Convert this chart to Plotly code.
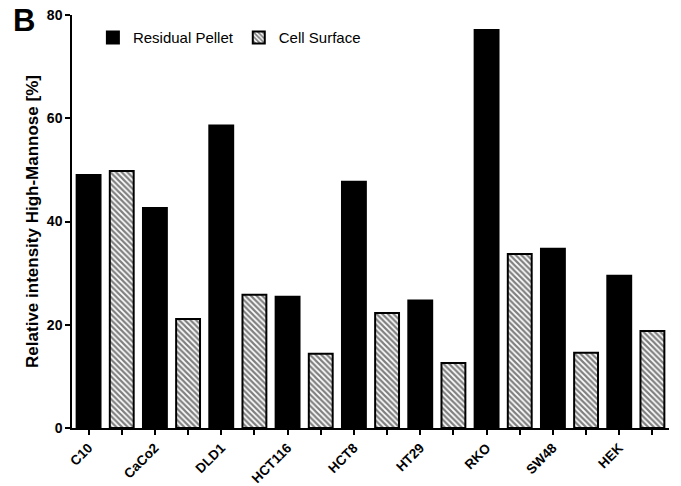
import plotly.graph_objects as go

cells = ["C10", "CaCo2", "DLD1", "HCT116", "HCT8", "HT29", "RKO", "SW48", "HEK"]
residual_pellet = [49.0, 42.6, 58.6, 25.4, 47.7, 24.7, 77.1, 34.7, 29.5]
cell_surface = [49.8, 21.1, 25.8, 14.4, 22.3, 12.6, 33.7, 14.6, 18.8]
y_ticks = [0, 20, 40, 60, 80]

FONT = "Arial, Liberation Sans, sans-serif"

# each bar occupies its own slot: pellet at 2*i, surface at 2*i+1
pos_pellet = [2 * i for i in range(len(cells))]
pos_surface = [2 * i + 1 for i in range(len(cells))]
tickvals = list(range(2 * len(cells)))
ticktext = []
for c in cells:
    ticktext += [c, ""]

fig = go.Figure()
fig.add_trace(go.Bar(
    x=pos_pellet, y=residual_pellet, name="Residual Pellet",
    marker=dict(color="black", line=dict(color="black", width=2)),
    width=0.72,
))
fig.add_trace(go.Bar(
    x=pos_surface, y=cell_surface, name="Cell Surface",
    marker=dict(color="white", line=dict(color="black", width=2),
                pattern=dict(shape="\\", fgcolor="black", bgcolor="white",
                             size=4, solidity=0.55)),
    width=0.72,
))

fig.update_layout(
    width=681, height=486,
    margin=dict(l=72, r=12, t=15, b=58, autoexpand=False),
    paper_bgcolor="white", plot_bgcolor="white",
    font=dict(family=FONT, color="black"),
    showlegend=True,
    legend=dict(orientation="h", x=0.035, y=0.985, xanchor="left", yanchor="top",
                font=dict(size=15, family=FONT), bgcolor="rgba(0,0,0,0)",
                itemwidth=30, traceorder="normal"),
    bargap=0.27,
)
fig.update_xaxes(
    range=[-0.5, 17.5], tickmode="array", tickvals=tickvals, ticktext=ticktext,
    tickangle=-45, ticks="outside", ticklen=5, tickwidth=1.5, tickcolor="black",
    showline=True, linecolor="black", linewidth=1.5, showgrid=False, zeroline=False,
    tickfont=dict(size=13.5, family=FONT, weight="bold"), automargin=False,
)
fig.update_yaxes(
    range=[0, 80], tickmode="array", tickvals=y_ticks,
    ticks="outside", ticklen=5, tickwidth=1.5, tickcolor="black",
    showline=True, linecolor="black", linewidth=1.5, showgrid=False, zeroline=False,
    tickfont=dict(size=14, family=FONT, weight="bold"), automargin=False,
    title=dict(text="Relative intensity High-Mannose [%]",
               font=dict(size=17, family=FONT, weight="bold"), standoff=4),
)
fig.add_annotation(text="<b>B</b>", xref="paper", yref="paper", x=-0.103, y=1.035,
                   xanchor="left", yanchor="top", showarrow=False,
                   font=dict(size=31, family=FONT, color="black"))

fig.write_html("out.html", config={"displayModeBar": False},
               post_script="document.body.style.margin='0';document.body.style.overflow='hidden';")
